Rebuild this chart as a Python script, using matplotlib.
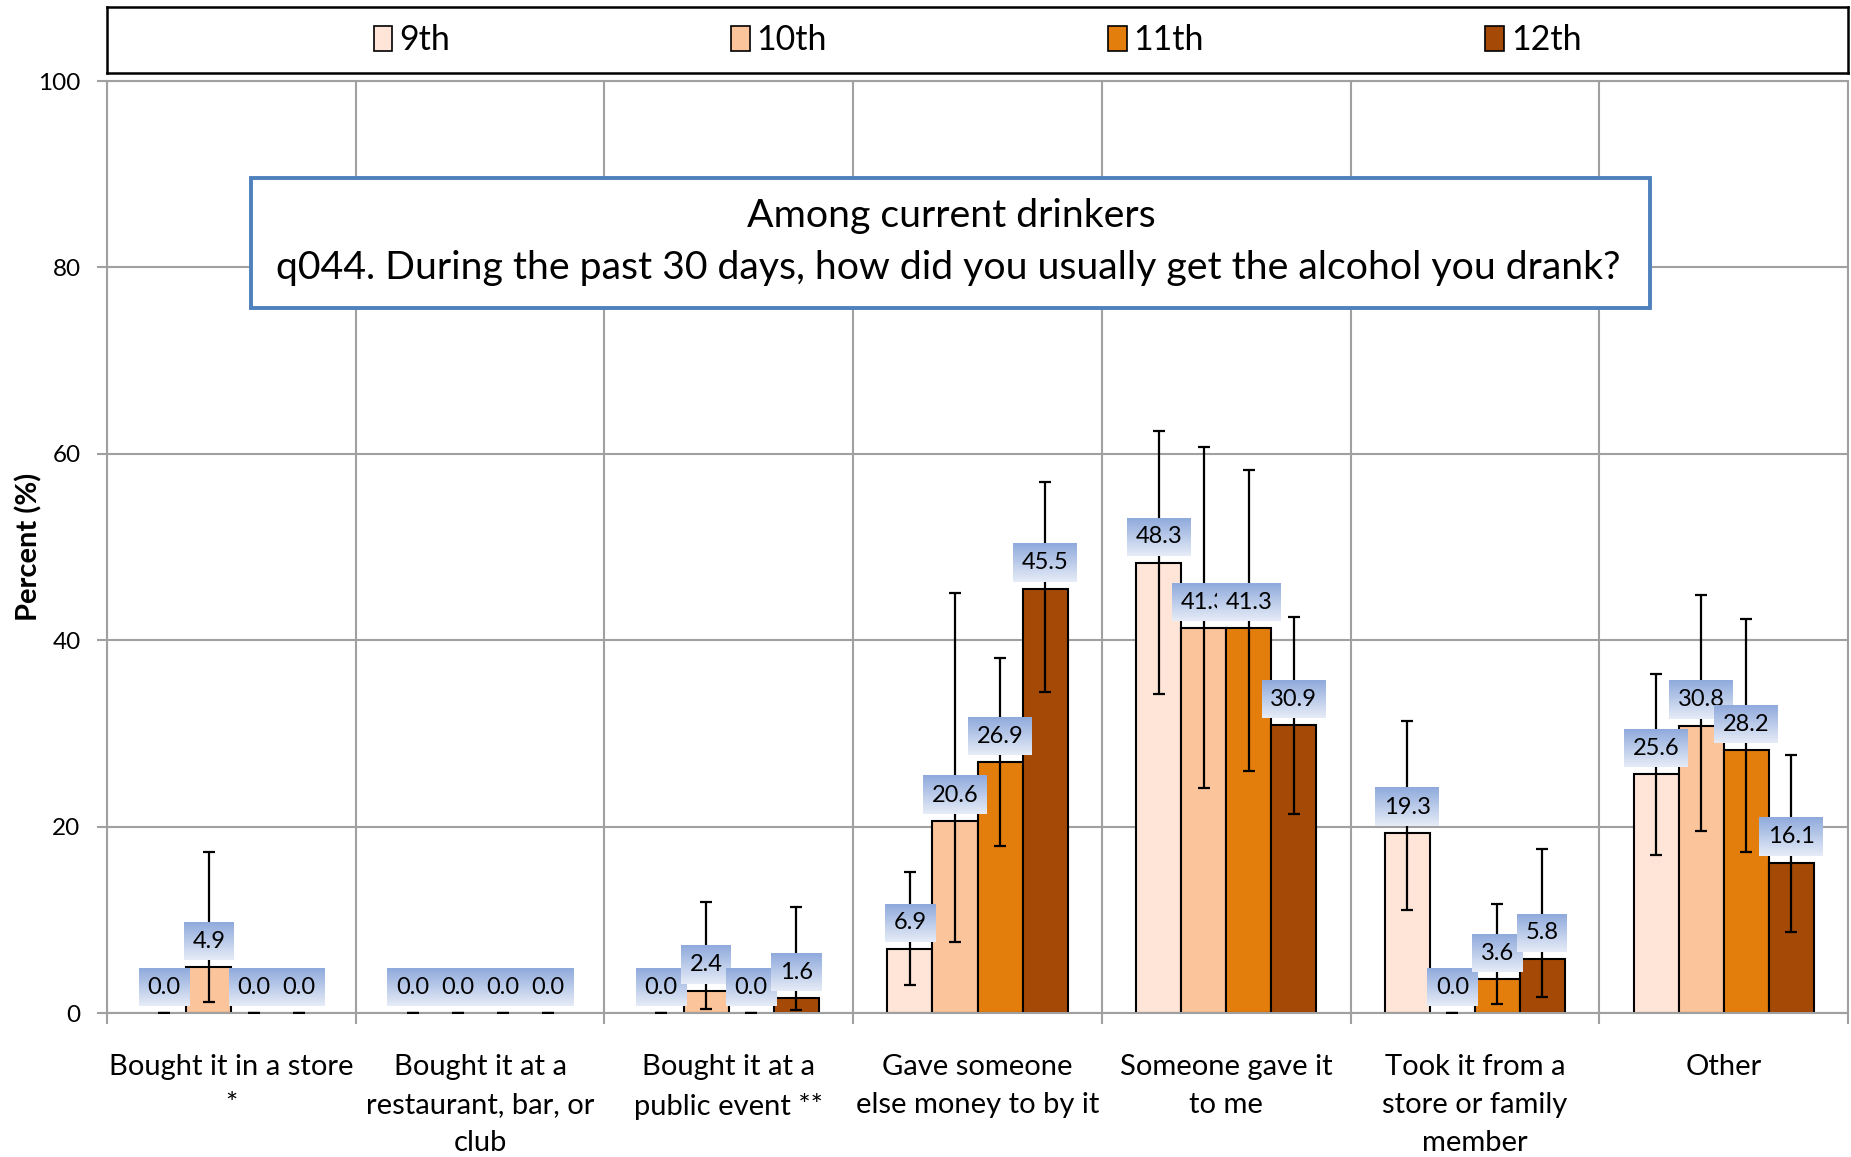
import matplotlib.pyplot as plt
import numpy as np
from matplotlib.patches import Rectangle, Patch

plt.rcParams['font.family'] = ['Lato', 'DejaVu Sans']

categories = ['Bought it in a store\n*',
              'Bought it at a\nrestaurant, bar, or\nclub',
              'Bought it at a\npublic event **',
              'Gave someone\nelse money to by it',
              'Someone gave it\nto me',
              'Took it from a\nstore or family\nmember',
              'Other']
grades = ['9th', '10th', '11th', '12th']
colors = ['#FEE5D7', '#FCC49A', '#E37D0B', '#A54A06']

pct_9th = [0.0, 0.0, 0.0, 6.9, 48.3, 19.3, 25.6]
pct_10th = [4.9, 0.0, 2.4, 20.6, 41.3, 0.0, 30.8]
pct_11th = [0.0, 0.0, 0.0, 26.9, 41.3, 3.6, 28.2]
pct_12th = [0.0, 0.0, 1.6, 45.5, 30.9, 5.8, 16.1]

# confidence intervals (lower / upper)
lo_9th = [0.0, 0.0, 0.0, 3.0, 34.2, 11.1, 17.0]
hi_9th = [0.0, 0.0, 0.0, 15.1, 62.4, 31.3, 36.4]
lo_10th = [1.2, 0.0, 0.4, 7.6, 24.1, 0.0, 19.5]
hi_10th = [17.3, 0.0, 11.9, 45.1, 60.7, 0.0, 44.9]
lo_11th = [0.0, 0.0, 0.0, 17.9, 26.0, 1.0, 17.3]
hi_11th = [0.0, 0.0, 0.0, 38.1, 58.3, 11.7, 42.3]
lo_12th = [0.0, 0.0, 0.3, 34.4, 21.3, 1.7, 8.7]
hi_12th = [0.0, 0.0, 11.4, 57.0, 42.5, 17.6, 27.7]

title_lines = ['Among current drinkers',
               'q044. During the past 30 days, how did you usually get the alcohol you drank?']

series = [(pct_9th, lo_9th, hi_9th), (pct_10th, lo_10th, hi_10th),
          (pct_11th, lo_11th, hi_11th), (pct_12th, lo_12th, hi_12th)]

W, H = 1851, 1157
grid_color = '#A0A0A0'

fig = plt.figure(figsize=(W / 100, H / 100), dpi=100)
ax = fig.add_axes([107 / W, 1 - 1013 / H, (1848 - 107) / W, (1013 - 81) / H])

x = np.arange(len(categories))
bw = 0.181
labels = []
for i, (vals, lo, hi) in enumerate(series):
    vals = np.array(vals)
    pos = x + (i - 1.5) * bw
    lws = [1.5 if v > 0 else 0 for v in vals]
    ax.bar(pos, vals, bw, color=colors[i], edgecolor='black', linewidth=lws, zorder=2)
    err = [vals - np.array(lo), np.array(hi) - vals]
    ax.errorbar(pos, vals, yerr=err, fmt='none', ecolor='black', elinewidth=1.6,
                capsize=4.5, capthick=1.6, zorder=3)
    for xi, v in zip(pos, vals):
        labels.append((xi, v))

ax.set_xlim(-0.5, 6.5)
ax.set_ylim(0, 100)
ax.set_yticks(range(0, 101, 20))
ax.set_xticks(x)
ax.set_xticklabels(categories, fontsize=21, linespacing=1.58)
ax.set_xticks(np.arange(-0.5, 7, 1), minor=True)
ax.tick_params(axis='x', which='major', length=0, pad=29.5)
ax.tick_params(axis='x', which='minor', length=8, color=grid_color, width=1.5)
ax.tick_params(axis='y', length=7, color=grid_color, width=1.5, labelsize=17.5, pad=12)
ax.grid(axis='y', color=grid_color, lw=1.5)
ax.grid(axis='x', which='minor', color=grid_color, lw=1.5)
ax.set_axisbelow(True)
for s in ax.spines.values():
    s.set_color(grid_color)
    s.set_linewidth(1.5)
ax.set_ylabel('Percent (%)', fontsize=21, fontweight='bold')
ax.yaxis.set_label_coords((42 - 107) / 1741, 0.5)

# data labels with gradient boxes
texts = []
for k, (xi, v) in enumerate(labels):
    t = ax.annotate(f'{v:.1f}', (xi, v), xytext=(0, 26), textcoords='offset pixels',
                    ha='center', va='center', fontsize=17, zorder=11 + 2 * k)
    texts.append(t)

fig.canvas.draw()
renderer = fig.canvas.get_renderer()
grad = np.linspace(0, 1, 64)[:, None, None]
top = np.array([0x8F, 0xAA, 0xDC]) / 255
bot = np.array([0xE6, 0xEC, 0xF7]) / 255
img = top * (1 - grad) + bot * grad
inv = ax.transData.inverted()
for k, ((xi, v), t) in enumerate(zip(labels, texts)):
    tw = t.get_window_extent(renderer).width
    cx, cy = ax.transData.transform((xi, v))
    cy += 26
    (x0, y0), (x1, y1) = inv.transform([(cx - tw / 2 - 8.5, cy - 19), (cx + tw / 2 + 8.5, cy + 19)])
    ax.imshow(img, extent=(x0, x1, y0, y1), aspect='auto', origin='upper',
              interpolation='bilinear', zorder=10 + 2 * k)
ax.set_xlim(-0.5, 6.5)
ax.set_ylim(0, 100)

# question box
fig.patches.append(Rectangle((251 / W, 1 - 308 / H), 1399 / W, 130 / H, transform=fig.transFigure,
                             facecolor='white', edgecolor='#4F81BD', linewidth=2.8, zorder=50))
fig.text(951 / W, 1 - 216 / H, title_lines[0], ha='center', va='center', fontsize=28.3, zorder=51)
fig.text(948 / W, 1 - 268 / H, title_lines[1], ha='center', va='center', fontsize=28.3, zorder=51)

# legend box
lax = fig.add_axes([107 / W, 1 - 73 / H, 1741 / W, 66 / H])
lax.set_xticks([])
lax.set_yticks([])
for s in lax.spines.values():
    s.set_color('black')
    s.set_linewidth(1.8)
handles = [Patch(facecolor=c, edgecolor='black', linewidth=1.2) for c in colors]
lax.legend(handles, grades, loc='center', ncol=4, frameon=False, fontsize=24.5,
           handlelength=0.55, handleheight=0.75, handletextpad=0.2, columnspacing=8.26)

fig.savefig('out.png', dpi=100)
